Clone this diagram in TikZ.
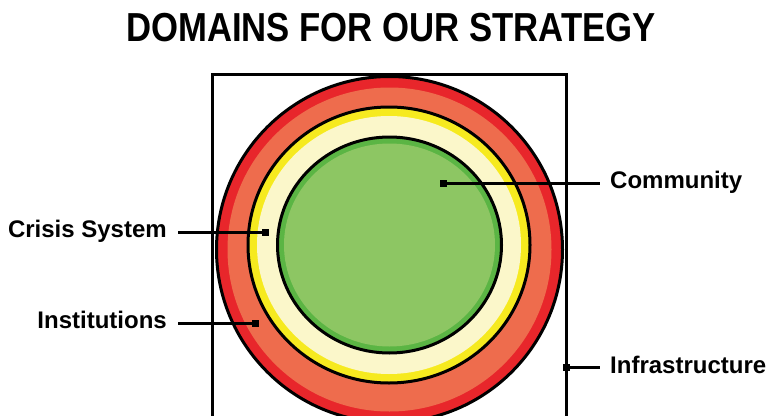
\documentclass[tikz,border=0pt]{standalone}
\usepackage{fontspec}
\setmainfont{Liberation Sans}
\definecolor{ringred}{HTML}{E8262B}
\definecolor{ringorange}{HTML}{EE6C4D}
\definecolor{ringyellow}{HTML}{F6EA1F}
\definecolor{ringcream}{HTML}{FBF7CA}
\definecolor{greendark}{HTML}{5BB544}
\definecolor{greenlight}{HTML}{8DC663}
\begin{document}
\begin{tikzpicture}[x=1pt,y=-1pt,
  lbl/.style={font=\fontsize{24}{28}\selectfont\bfseries, inner sep=0pt},
  dotsq/.style={rectangle, fill=black, minimum size=7pt, inner sep=0pt},
  conn/.style={line width=3pt, black},
  ringline/.style={line width=3pt, draw=black}]
\useasboundingbox (0,0) rectangle (771,415);
\clip (0,0) rectangle (771,415);
\fill[white] (0,0) rectangle (771,415);
% title
\node[anchor=base, inner sep=0pt] (title) at (391,41)
  {\scalebox{0.857}[1]{\fontsize{40.5}{48}\selectfont\bfseries DOMAINS FOR OUR STRATEGY}};
% rings
\filldraw[ringline, fill=ringred] (389.5,249.5) circle [radius=173];
\fill[ringorange] (389.5,249.5) circle [radius=162];
\filldraw[ringline, fill=ringyellow] (389,245) ellipse [x radius=141, y radius=138];
\fill[ringcream] (389,245) ellipse [x radius=132, y radius=129];
\filldraw[ringline, fill=greendark] (389.5,245) ellipse [x radius=112, y radius=108];
\fill[greenlight] (389.5,245) ellipse [x radius=105.5, y radius=101.5];
% box
\draw[line width=3pt] (212,500) -- (212,74) -- (566,74) -- (566,500);
% labels
\node[lbl, anchor=base west] (community) at (610,188) {Community};
\node[lbl, anchor=base east] (crisis) at (167,237) {Crisis System};
\node[lbl, anchor=base east] (institutions) at (167,328) {Institutions};
\node[lbl, anchor=base west] (infra) at (610,373) {Infrastructure};
% connector ends
\coordinate (communityEnd) at (600,183);
\coordinate (crisisStart) at (178,232);
\coordinate (institutionsStart) at (178,323);
\coordinate (infraEnd) at (600,367);
\node[dotsq] (communityDot) at (443,183) {};
\node[dotsq] (crisisDot) at (265,232) {};
\node[dotsq] (institutionsDot) at (255,323) {};
\node[dotsq] (infraDot) at (566,367) {};
\draw[conn] (communityDot.center) -- (communityEnd);
\draw[conn] (crisisStart) -- (crisisDot.center);
\draw[conn] (institutionsStart) -- (institutionsDot.center);
\draw[conn] (infraDot.center) -- (infraEnd);
\end{tikzpicture}
\end{document}
